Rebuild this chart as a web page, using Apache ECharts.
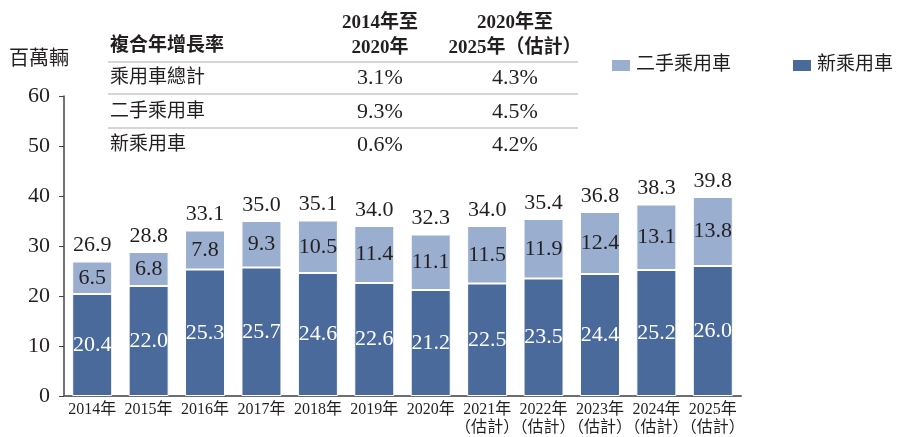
<!DOCTYPE html>
<html>
<head>
<meta charset="utf-8">
<script src="https://cdn.jsdelivr.net/npm/echarts@6/dist/echarts.min.js"></script>
<style>html,body{margin:0;padding:0;background:#fff}#c{width:908px;height:437px}</style>
</head>
<body>
<div id="c"></div>
<script>
const categories = ['2014年','2015年','2016年','2017年','2018年','2019年','2020年','2021年\n（估計）','2022年\n（估計）','2023年\n（估計）','2024年\n（估計）','2025年\n（估計）'];
const newCars = [20.4, 22.0, 25.3, 25.7, 24.6, 22.6, 21.2, 22.5, 23.5, 24.4, 25.2, 26.0];
const usedCars = [6.5, 6.8, 7.8, 9.3, 10.5, 11.4, 11.1, 11.5, 11.9, 12.4, 13.1, 13.8];
const totals = [26.9, 28.8, 33.1, 35.0, 35.1, 34.0, 32.3, 34.0, 35.4, 36.8, 38.3, 39.8];
const yTicks = [0, 10, 20, 30, 40, 50, 60];
const cagrTitle = '複合年增長率';
const cagrHeaders = ['2014年至\n2020年', '2020年至\n2025年（估計）'];
const cagrRows = ['乘用車總計', '二手乘用車', '新乘用車'];
const cagr2014to2020 = ['3.1%', '9.3%', '0.6%'];
const cagr2020to2025 = ['4.3%', '4.5%', '4.2%'];

const FONT = '"Liberation Serif", "Noto Sans CJK TC", serif';
const DARK = '#4a6a9b';
const LIGHT = '#9aaecf';
const TXT = '#231f20';

const chart = echarts.init(document.getElementById('c'));

const graphics = [];
graphics.push({type:'text', left:9, top:50, style:{text:'百萬輛', font:'20px ' + FONT, fill:TXT}});
graphics.push({type:'text', left:110, top:37, style:{text:cagrTitle, font:'bold 19px ' + FONT, fill:TXT}});
const colX = [380, 515];
cagrHeaders.forEach((h, i) => {
  graphics.push({type:'text', x:colX[i], y:11, style:{text:h, font:'bold 19px ' + FONT, fill:TXT, align:'center', verticalAlign:'top', lineHeight:25}});
});
const lineY = [62, 94, 128];
lineY.forEach(y => {
  graphics.push({type:'line', shape:{x1:108, y1:y, x2:578, y2:y}, style:{stroke:'#c8c8c8', lineWidth:1.5}});
});
const rowY = [78, 112, 145];
cagrRows.forEach((r, i) => {
  graphics.push({type:'text', x:110, y:rowY[i], style:{text:r, font:'19px ' + FONT, fill:TXT, verticalAlign:'middle'}});
  graphics.push({type:'text', x:colX[0], y:rowY[i], style:{text:cagr2014to2020[i], font:'22px ' + FONT, fill:TXT, align:'center', verticalAlign:'middle'}});
  graphics.push({type:'text', x:colX[1], y:rowY[i], style:{text:cagr2020to2025[i], font:'22px ' + FONT, fill:TXT, align:'center', verticalAlign:'middle'}});
});

chart.setOption({
  animation: false,
  textStyle: {fontFamily: FONT},
  grid: {left: 64, right: 167, top: 96, bottom: 40, containLabel: false},
  legend: {
    data: ['二手乘用車', '新乘用車'],
    left: 605, top: 51,
    itemWidth: 20, itemHeight: 13, itemGap: 60,
    icon: 'rect',
    textStyle: {fontSize: 19, color: TXT, fontFamily: FONT},
    selectedMode: false
  },
  xAxis: {
    type: 'category',
    data: categories,
    axisLine: {lineStyle: {color: '#6d6d6d', width: 2}},
    axisTick: {show: false},
    axisLabel: {fontSize: 16, color: TXT, fontFamily: FONT, margin: 5, lineHeight: 18, interval: 0}
  },
  yAxis: {
    type: 'value',
    min: yTicks[0], max: yTicks[yTicks.length - 1], interval: 10,
    axisLine: {show: true, lineStyle: {color: '#444', width: 1.5}},
    axisTick: {show: true, inside: false, length: 5, lineStyle: {color: '#444'}},
    splitLine: {show: false},
    axisLabel: {fontSize: 22, color: TXT, fontFamily: FONT, margin: 14}
  },
  series: [
    {
      name: '新乘用車', type: 'bar', stack: 'a', data: newCars, barWidth: 40,
      itemStyle: {color: DARK, borderColor: '#fff', borderWidth: 1},
      label: {show: true, position: 'inside', color: '#fff', fontSize: 22, fontFamily: FONT, formatter: p => p.value.toFixed(1)}
    },
    {
      name: '二手乘用車', type: 'bar', stack: 'a', data: usedCars, barWidth: 40,
      itemStyle: {color: LIGHT, borderColor: '#fff', borderWidth: 1},
      label: {show: true, position: 'inside', color: TXT, fontSize: 22, fontFamily: FONT, formatter: p => p.value.toFixed(1)}
    },
    {
      name: 'total', type: 'bar', stack: 'a', data: totals.map(() => 0), barWidth: 40,
      itemStyle: {color: 'transparent'}, silent: true,
      label: {show: true, position: 'top', distance: 5, color: TXT, fontSize: 22, fontFamily: FONT, formatter: p => totals[p.dataIndex].toFixed(1)}
    }
  ],
  graphic: graphics
});
</script>
</body>
</html>
